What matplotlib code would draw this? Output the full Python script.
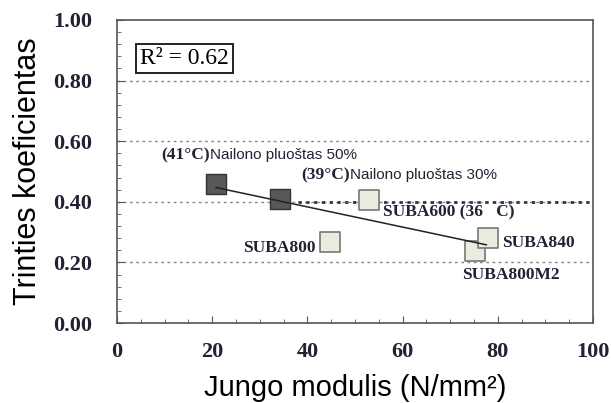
import matplotlib.pyplot as plt
from matplotlib.ticker import MultipleLocator

# data
dark_x = [20.8, 34.2]
dark_y = [0.458, 0.408]
light_x = [53.0, 44.8, 75.3, 78.0]
light_y = [0.405, 0.268, 0.238, 0.282]
trend_x = [20.8, 77.6]
trend_y = [0.447, 0.258]

labels = [
    ("(41\u00b0C)", "Nailono pluoštas 50%", 9.4, 0.554),
    ("(39\u00b0C)", "Nailono pluoštas 30%", 38.8, 0.488),
]
suba_labels = [
    ("SUBA600 (36   C)", 55.8, 0.364),
    ("SUBA800", 26.5, 0.247),
    ("SUBA840", 80.8, 0.264),
    ("SUBA800M2", 72.4, 0.158),
]

fig = plt.figure(figsize=(6.11, 4.03), dpi=100)
ax = fig.add_axes([0.1915, 0.1985, 0.779, 0.752])

for yv in [0.2, 0.6, 0.8]:
    ax.axhline(yv, color="#888888", ls=(0, (2, 2.5)), lw=1.0, zorder=1)
ax.plot([0, 100], [0.4, 0.4], color="#888888", ls=(0, (2, 2.5)), lw=1.0, zorder=1)
ax.plot([38, 100], [0.4, 0.4], color="#333355", ls=(0, (1.2, 1.6)), lw=2.0, zorder=1)

ax.plot(trend_x, trend_y, color="#222222", lw=1.1, zorder=4)
ax.scatter(dark_x, dark_y, marker="s", s=190, c="#585858", edgecolors="#333333",
           linewidths=1.0, zorder=3)
ax.scatter(light_x, light_y, marker="s", s=190, c="#ecebe0", edgecolors="#777777",
           linewidths=1.2, zorder=3)

serif = "Liberation Serif"
sans = "Liberation Sans"
for pre, txt, x, y in labels:
    ax.text(x, y, pre, family=serif, fontsize=12.5, fontweight="bold", color="#222233",
            va="center", ha="left")
    ax.annotate(txt, (x, y), xytext=(35, 0), textcoords="offset points",
                family=sans, fontsize=11, color="#222233", va="center", ha="left")

for txt, x, y in suba_labels:
    ax.text(x, y, txt, family=serif, fontsize=12.5, fontweight="bold", color="#222233",
            va="center", ha="left")

ax.text(4.8, 0.873, "R\u00b2 = 0.62", family=serif, fontsize=17, va="center", ha="left",
        bbox=dict(boxstyle="square,pad=0.18", fc="white", ec="#222222", lw=1.4))

ax.set_xlim(0, 100)
ax.set_ylim(0, 1.0)
ax.xaxis.set_major_locator(MultipleLocator(20))
ax.xaxis.set_minor_locator(MultipleLocator(5))
ax.yaxis.set_major_locator(MultipleLocator(0.2))
ax.yaxis.set_minor_locator(MultipleLocator(0.04))
ax.tick_params(which="both", direction="in", color="#555555")
ax.tick_params(which="major", length=5)
ax.tick_params(which="minor", length=3)
ax.tick_params(axis="x", pad=14)
ax.tick_params(axis="y", pad=18)
ax.set_xticks([0, 20, 40, 60, 80, 100])
ax.set_xticklabels(["0", "20", "40", "60", "80", "100"], family=serif,
                   fontsize=16, fontweight="bold", color="#222233")
ax.set_yticks([0, 0.2, 0.4, 0.6, 0.8, 1.0])
ax.set_yticklabels(["0.00", "0.20", "0.40", "0.60", "0.80", "1.00"], family=serif,
                   fontsize=16, fontweight="bold", color="#222233")
for s in ax.spines.values():
    s.set_color("#555555")
    s.set_linewidth(1.2)

ax.set_xlabel("Jungo modulis (N/mm\u00b2)", family=sans, fontsize=21, labelpad=8)
ax.set_ylabel("Trinties koeficientas", family=sans, fontsize=22, labelpad=7)

fig.savefig("out.png", dpi=100)
